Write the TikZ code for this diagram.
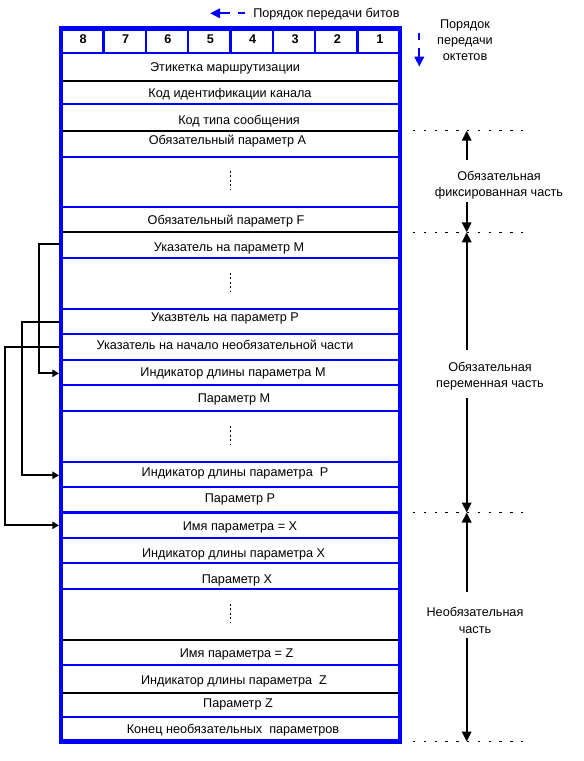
\documentclass[tikz,border=0pt]{standalone}
\usepackage{fontspec}
\setmainfont{Liberation Sans}
\usetikzlibrary{arrows.meta}
\definecolor{frameblue}{RGB}{0,0,255}
\begin{document}
\begin{tikzpicture}[x=0.75pt,y=-0.75pt,
  txt/.style={font=\fontsize{9.5pt}{11pt}\selectfont, inner sep=0pt, anchor=base},
  side/.style={font=\fontsize{9.5pt}{12.45pt}\selectfont, inner sep=0pt, align=center},
  num/.style={font=\fontsize{9.5pt}{11pt}\selectfont\bfseries, inner sep=0pt, anchor=base},
  bline/.style={frameblue, line width=1.7pt},
  kline/.style={black, line width=1.3pt},
  conn/.style={black, line width=1.5pt, -{Triangle[length=5pt,width=5.5pt]}},
  span/.style={black, line width=1.6pt, -{Triangle[length=7.5pt,width=7pt]}},
  guide/.style={black, line width=1.1pt, dash pattern=on 1.8pt off 6.3pt},
  vdots/.style={black, line width=1.4pt, dash pattern=on 1.4pt off 1.9pt},
  order/.style={frameblue, line width=1.6pt, dash pattern=on 5.25pt off 6pt on 20pt, -{Triangle[length=7.5pt,width=7pt]}},
]
\useasboundingbox (0,0) rectangle (583,761);

% header row
\foreach \k in {1,...,7} \draw[bline] ({61+42.375*\k},28.5) -- ({61+42.375*\k},53);
\foreach \n [count=\i from 0] in {8,7,6,5,4,3,2,1}
  \node[num] (h\n) at ({61+42.375*(\i+0.5)+1},43.8) {\n};

% row separators
\foreach \y in {53,104.3,157,207,258,309,334.3,360,385.3,411,461.7,487,512.5,538.3,563.3,589.3,665,717.3}
  \draw[bline] (61,\y) -- (400,\y);
\foreach \y in {80.7,130.7,232.3,640,692.7}
  \draw[kline] (61,\y) -- (400,\y);

% row texts
\node[txt] (r1)  at (225,71.2)  {Этикетка маршрутизации};
\node[txt] (r2)  at (230,97.8)  {Код идентификации канала};
\node[txt] (r3)  at (239,124.5) {Код типа сообщения};
\node[txt] (r4)  at (227.5,144.5) {Обязательный параметр A};
\node[txt] (r6)  at (226,224.5) {Обязательный параметр F};
\node[txt] (r7)  at (229,251.2) {Указатель на параметр M};
\node[txt] (r9)  at (225,321.8) {Указвтель на параметр P};
\node[txt] (r10) at (225,349.5) {Указатель на начало необязательной части};
\node[txt] (r11) at (233,376.2) {Индикатор длины параметра M};
\node[txt] (r12) at (234,402.8) {Параметр M};
\node[txt] (r14) at (235,476.2) {Индикатор длины параметра\ \ P};
\node[txt] (r15) at (240,502.8) {Параметр P};
\node[txt] (r16) at (240,530.2) {Имя параметра = X};
\node[txt] (r17) at (233.6,557.2) {Индикатор длины параметра X};
\node[txt] (r18) at (237,583.8) {Параметр X};
\node[txt] (r20) at (236.6,657.8) {Имя параметра = Z};
\node[txt] (r21) at (234,684.5) {Индикатор длины параметра\ \ Z};
\node[txt] (r22) at (238,707.8) {Параметр Z};
\node[txt] (r23) at (233,733.8) {Конец необязательных\ \ параметров};

% vertical dots
\foreach \c in {181,283,436,614}
  \draw[vdots] (230.5,\c-10) -- (230.5,\c+11);

% pointers on the left
\coordinate (sM) at (59,244.3);
\coordinate (tM) at (59,373.3);
\coordinate (sP) at (59,321.7);
\coordinate (tP) at (59,475.3);
\coordinate (sO) at (59,346.7);
\coordinate (tO) at (59,525.3);
\draw[conn] (sM) -- (39,244.3) |- (tM);
\draw[conn] (sP) -- (21.7,321.7) |- (tP);
\draw[conn] (sO) -- (5,346.7) |- (tO);

% outer frame
\draw[frameblue, line width=3.2pt] (61,28.5) rectangle (400,741.5);

% transmission order
\coordinate (bitA) at (245,13.3);
\coordinate (bitB) at (210,13.3);
\draw[order] (bitA) -- (bitB);
\node[txt, anchor=base west] (bits) at (253,17.8) {Порядок передачи битов};
\coordinate (octA) at (419.3,32.7);
\coordinate (octB) at (419.3,66.7);
\draw[order] (octA) -- (octB);
\node[side, font=\fontsize{9.5pt}{11.9pt}\selectfont] (oct) at (465,40.2) {Порядок\\передачи\\октетов};

% dotted boundaries
\foreach \y in {130.7,232.3,512.5,741.5}
  \draw[guide] (413,\y) -- (526,\y);

% spans
\coordinate (d1) at (466.7,130.7);
\coordinate (d2) at (466.7,232.3);
\coordinate (d3) at (466.7,512.5);
\coordinate (d4) at (466.7,741.5);
\coordinate (a1) at (466.7,160);
\coordinate (b1) at (466.7,201.7);
\coordinate (a2) at (466.7,350);
\coordinate (b2) at (466.7,398.3);
\coordinate (a3) at (466.7,591.7);
\coordinate (b3) at (466.7,638.3);
\node[side] (fix) at (499,185) {Обязательная\\фиксированная часть};
\node[side] (var) at (490,376) {Обязательная\\переменная часть};
\node[side] (opt) at (475,620.2) {Необязательная\\часть};
\draw[span] (a1) -- (d1);
\draw[span] (b1) -- (d2);
\draw[span] (a2) -- (d2);
\draw[span] (b2) -- (d3);
\draw[span] (a3) -- (d3);
\draw[span] (b3) -- (d4);
\end{tikzpicture}
\end{document}
